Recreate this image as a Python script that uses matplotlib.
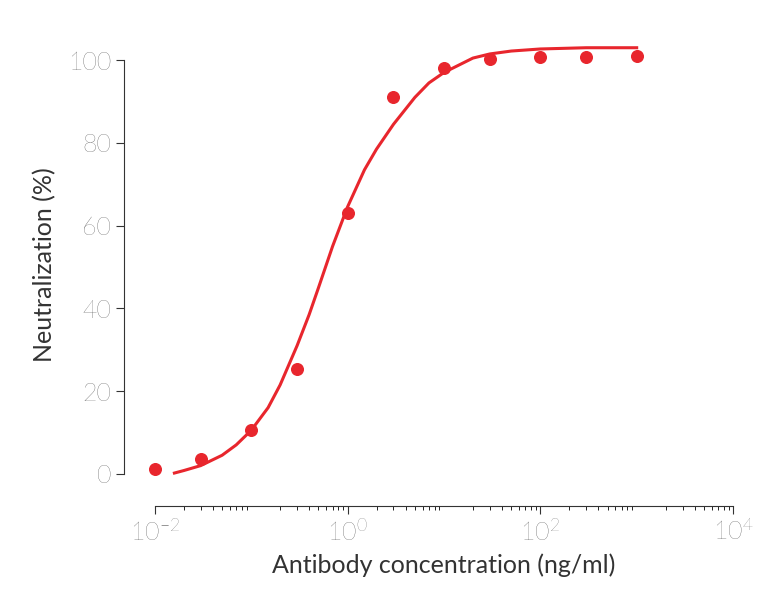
import matplotlib
matplotlib.use("Agg")
import matplotlib.pyplot as plt

conc = [0.01, 0.03, 0.1, 0.3, 1, 3, 10, 30, 100, 300, 1000]
neut = [1.2, 3.5, 10.5, 25.3, 63, 91, 98.2, 100.3, 100.7, 100.8, 101.0]

curve_x = [0.016, 0.02, 0.03, 0.05, 0.07, 0.1, 0.15, 0.2, 0.3, 0.4, 0.5, 0.7, 1, 1.5, 2, 3, 5, 7, 10, 20, 30, 50, 100, 300, 1000]
curve_y = [0.2, 0.8, 2.0, 4.5, 7.0, 10.5, 16, 21.5, 31, 38.5, 45, 55, 64.5, 73.5, 78.5, 84.5, 91, 94.5, 97, 100.5, 101.5, 102.2, 102.7, 103.0, 103.0]

plt.rcParams["font.family"] = "Lato"
plt.rcParams["font.weight"] = "light"
red = "#e8262d"
fig = plt.figure(figsize=(7.66, 6.14), dpi=100)
ax = fig.add_axes([0.202, 0.208, 0.755, 0.721])
ax.plot(curve_x, curve_y, color=red, lw=2.2)
ax.scatter(conc, neut, color=red, s=70, zorder=3, clip_on=False)
ax.set_xscale("log")
ax.set_xlim(1e-2, 1e4)
ax.set_ylim(-3, 104)
ax.set_yticks([0, 20, 40, 60, 80, 100])
ax.set_xticks([1e-2, 1e0, 1e2, 1e4])
for s in ["top", "right"]:
    ax.spines[s].set_visible(False)
ax.spines["left"].set_position(("outward", 22))
ax.spines["bottom"].set_position(("outward", 14))
ax.spines["left"].set_bounds(0, 100)
for s in ["left", "bottom"]:
    ax.spines[s].set_color("#333333")
ax.tick_params(colors="#333333", labelsize=18, length=6)
ax.tick_params(which="minor", length=3)
ax.set_xlabel("Antibody concentration (ng/ml)", fontsize=18, color="#333333", labelpad=6)
ax.set_ylabel("Neutralization (%)", fontsize=18, color="#333333", labelpad=8)
fig.savefig("out.png", dpi=100)
